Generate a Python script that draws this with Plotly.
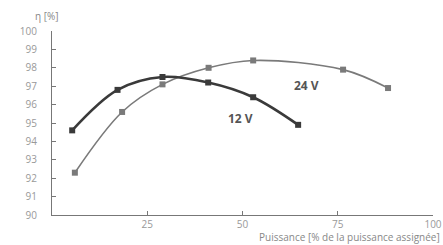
import plotly.graph_objects as go

x_12v = [5.3, 17.2, 29.0, 41.0, 52.8, 64.6]
y_12v = [94.6, 96.8, 97.5, 97.2, 96.4, 94.9]
x_24v = [6.0, 18.4, 29.0, 41.1, 52.8, 76.4, 88.2]
y_24v = [92.3, 95.6, 97.1, 98.0, 98.4, 97.9, 96.9]
x_ticks = [25, 50, 75, 100]
y_ticks = [90, 91, 92, 93, 94, 95, 96, 97, 98, 99, 100]

FONT = "Open Sans"
fig = go.Figure()
fig.add_trace(go.Scatter(x=x_24v, y=y_24v, mode="lines+markers",
                         line=dict(color="#7a7a7a", width=1.6, shape="spline", smoothing=1.0),
                         marker=dict(symbol="square", size=6, color="#7a7a7a")))
fig.add_trace(go.Scatter(x=x_12v, y=y_12v, mode="lines+markers",
                         line=dict(color="#3a3a3a", width=2.6, shape="spline", smoothing=1.0),
                         marker=dict(symbol="square", size=6, color="#3a3a3a")))

fig.add_annotation(x=49.5, y=95.25, text="<b>12 V</b>", showarrow=False,
                   font=dict(family=FONT, size=12, color="#555555"))
fig.add_annotation(x=66.7, y=97.05, text="<b>24 V</b>", showarrow=False,
                   font=dict(family=FONT, size=12, color="#555555"))
fig.add_annotation(xref="paper", yref="paper", x=1, y=0, xanchor="right", yanchor="middle",
                   xshift=9, yshift=-22, text="Puissance [% de la puissance assignée]",
                   showarrow=False, font=dict(family=FONT, size=10, color="#888888"))
fig.add_annotation(xref="paper", yref="paper", x=0, y=1, xanchor="center", yanchor="middle",
                   xshift=-5, yshift=15, text="η [%]",
                   showarrow=False, font=dict(family=FONT, size=10, color="#888888"))

fig.update_layout(
    width=443, height=245, showlegend=False,
    margin=dict(l=52, r=10, t=31, b=30),
    plot_bgcolor="white", paper_bgcolor="white",
    font=dict(family=FONT, size=10, color="#999999"),
)
fig.update_xaxes(range=[0, 100], tickvals=x_ticks, showgrid=False, zeroline=False,
                 automargin=False,
                 showline=True, linecolor="#777777", linewidth=1,
                 ticks="inside", ticklen=4, tickcolor="#777777",
                 tickfont=dict(family=FONT, size=10, color="#999999"))
fig.update_yaxes(range=[90, 100], tickvals=y_ticks, showgrid=False, zeroline=False,
                 automargin=False,
                 showline=True, linecolor="#777777", linewidth=1,
                 ticks="inside", ticklen=4, tickcolor="#777777", ticklabelstandoff=12,
                 tickfont=dict(family=FONT, size=10, color="#999999"))
fig.write_html("out.html", config={"displayModeBar": False},
               post_script="document.body.style.margin='0';document.body.style.overflow='hidden';")
